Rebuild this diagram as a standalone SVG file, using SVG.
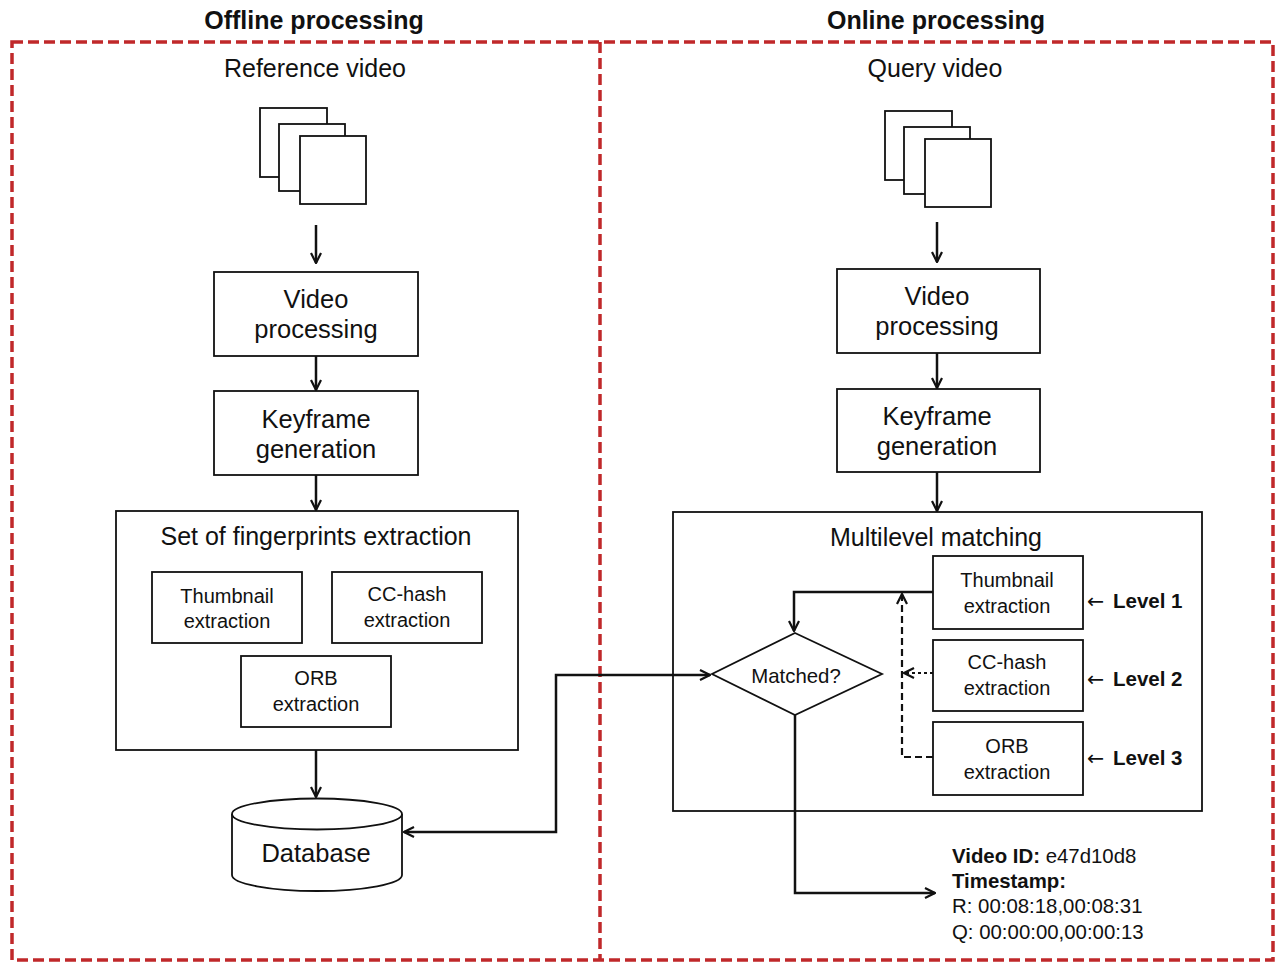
<svg xmlns="http://www.w3.org/2000/svg" width="1280" height="964" viewBox="0 0 1280 964">
<defs>
<style>
.t{font-family:"Liberation Sans",Arial,sans-serif;fill:#111;text-anchor:middle}
.b{font-weight:bold}
.s{text-anchor:start}
.ar{font-family:"DejaVu Sans",sans-serif;font-weight:normal}
.box{fill:#fff;stroke:#111;stroke-width:1.8}
.ln{fill:none;stroke:#111;stroke-width:2.5}
.red{fill:none;stroke:#c0282a;stroke-width:3.5;stroke-dasharray:11 5}
</style>
<marker id="ah" viewBox="0 0 12 12" refX="11" refY="6" markerWidth="12" markerHeight="12" markerUnits="userSpaceOnUse" orient="auto-start-reverse">
<path d="M1,1 L11,6 L1,11" fill="none" stroke="#111" stroke-width="2.2"/>
</marker>
</defs>
<rect width="1280" height="964" fill="#fff"/>
<g id="frames">
<rect class="red" x="12" y="42" width="1261" height="918"/>
<line class="red" x1="600" y1="42" x2="600" y2="960"/>
<text class="t b" x="314" y="29" font-size="25">Offline processing</text>
<text class="t b" x="936" y="29" font-size="25">Online processing</text>
</g>
<g id="ref-video">
<text class="t" x="315" y="77" font-size="25">Reference video</text>
<rect class="box" x="260" y="108" width="67" height="69"/>
<rect class="box" x="279" y="124" width="66" height="67"/>
<rect class="box" x="300" y="136" width="66" height="68"/>
</g>
<g id="query-video">
<text class="t" x="935" y="77" font-size="25">Query video</text>
<rect class="box" x="885" y="111" width="67" height="69"/>
<rect class="box" x="904" y="127" width="66" height="67"/>
<rect class="box" x="925" y="139" width="66" height="68"/>
</g>
<g id="l-video-processing">
<rect class="box" x="214" y="272" width="204" height="84"/>
<text class="t" x="316" y="308" font-size="25.5">Video</text>
<text class="t" x="316" y="338" font-size="25.5">processing</text>
</g>
<g id="l-keyframe">
<rect class="box" x="214" y="391" width="204" height="84"/>
<text class="t" x="316" y="428" font-size="25.5">Keyframe</text>
<text class="t" x="316" y="458" font-size="25.5">generation</text>
</g>
<g id="l-fingerprints">
<rect class="box" x="116" y="511" width="402" height="239"/>
<text class="t" x="316" y="545" font-size="25" textLength="311" lengthAdjust="spacing">Set of fingerprints  extraction</text>
</g>
<g id="l-thumb">
<rect class="box" x="152" y="572" width="150" height="71"/>
<text class="t" x="227" y="603" font-size="20">Thumbnail</text>
<text class="t" x="227" y="628" font-size="20">extraction</text>
</g>
<g id="l-cchash">
<rect class="box" x="332" y="572" width="150" height="71"/>
<text class="t" x="407" y="601" font-size="20">CC-hash</text>
<text class="t" x="407" y="627" font-size="20">extraction</text>
</g>
<g id="l-orb">
<rect class="box" x="241" y="656" width="150" height="71"/>
<text class="t" x="316" y="685" font-size="20">ORB</text>
<text class="t" x="316" y="711" font-size="20">extraction</text>
</g>
<g id="database">
<path class="box" d="M232,814 L232,875 A85,16 0 0 0 402,875 L402,814"/>
<ellipse class="box" cx="317" cy="814" rx="85" ry="15.5"/>
<text class="t" x="316" y="862" font-size="25.5">Database</text>
</g>
<g id="r-video-processing">
<rect class="box" x="837" y="269" width="203" height="84"/>
<text class="t" x="937" y="305" font-size="25.5">Video</text>
<text class="t" x="937" y="335" font-size="25.5">processing</text>
</g>
<g id="r-keyframe">
<rect class="box" x="837" y="389" width="203" height="83"/>
<text class="t" x="937" y="425" font-size="25.5">Keyframe</text>
<text class="t" x="937" y="455" font-size="25.5">generation</text>
</g>
<g id="r-multilevel">
<rect class="box" x="673" y="512" width="529" height="299"/>
<text class="t" x="936" y="546" font-size="25" textLength="212" lengthAdjust="spacing">Multilevel  matching</text>
</g>
<g id="r-thumb">
<rect class="box" x="933" y="556" width="150" height="73"/>
<text class="t" x="1007" y="587" font-size="20">Thumbnail</text>
<text class="t" x="1007" y="613" font-size="20">extraction</text>
</g>
<g id="r-cchash">
<rect class="box" x="933" y="640" width="150" height="71"/>
<text class="t" x="1007" y="669" font-size="20">CC-hash</text>
<text class="t" x="1007" y="695" font-size="20">extraction</text>
</g>
<g id="r-orb">
<rect class="box" x="933" y="722" width="150" height="73"/>
<text class="t" x="1007" y="753" font-size="20">ORB</text>
<text class="t" x="1007" y="779" font-size="20">extraction</text>
</g>
<g id="levels">
<text class="t b s" x="1087" y="608" font-size="20.5"><tspan class="ar">←</tspan> <tspan x="1113">Level 1</tspan></text>
<text class="t b s" x="1087" y="686" font-size="20.5"><tspan class="ar">←</tspan> <tspan x="1113">Level 2</tspan></text>
<text class="t b s" x="1087" y="765" font-size="20.5"><tspan class="ar">←</tspan> <tspan x="1113">Level 3</tspan></text>
</g>
<g id="matched">
<polygon class="box" points="795,633 882,674 795,715 712,674"/>
<text class="t" x="796" y="683" font-size="20.4">Matched?</text>
</g>
<g id="result">
<text class="t s" x="952" y="863" font-size="20.4"><tspan class="b">Video ID:</tspan> e47d10d8</text>
<text class="t b s" x="952" y="888" font-size="20.4">Timestamp:</text>
<text class="t s" x="952" y="913" font-size="20.4">R: 00:08:18,00:08:31</text>
<text class="t s" x="952" y="939" font-size="20.4">Q: 00:00:00,00:00:13</text>
</g>
<g id="connectors">
<line class="ln" x1="316" y1="225" x2="316" y2="263" marker-end="url(#ah)"/>
<line class="ln" x1="316" y1="356" x2="316" y2="390" marker-end="url(#ah)"/>
<line class="ln" x1="316" y1="475" x2="316" y2="510" marker-end="url(#ah)"/>
<line class="ln" x1="316" y1="750" x2="316" y2="797" marker-end="url(#ah)"/>
<line class="ln" x1="937" y1="222" x2="937" y2="262" marker-end="url(#ah)"/>
<line class="ln" x1="937" y1="353" x2="937" y2="388" marker-end="url(#ah)"/>
<line class="ln" x1="937" y1="472" x2="937" y2="511" marker-end="url(#ah)"/>
<polyline class="ln" points="404,832 556,832 556,675 710,675" marker-start="url(#ah)" marker-end="url(#ah)"/>
<polyline class="ln" points="933,592 794,592 794,631" marker-end="url(#ah)"/>
<polyline class="ln" points="795,715 795,893 935,893" marker-end="url(#ah)"/>
<polyline fill="none" stroke="#111" stroke-width="2.2" stroke-dasharray="7 4" points="933,757 902,757 902,594" marker-end="url(#ah)"/>
<line stroke="#111" stroke-width="2.2" stroke-dasharray="3 3" x1="933" y1="673" x2="904" y2="673" marker-end="url(#ah)"/>
</g>
</svg>
